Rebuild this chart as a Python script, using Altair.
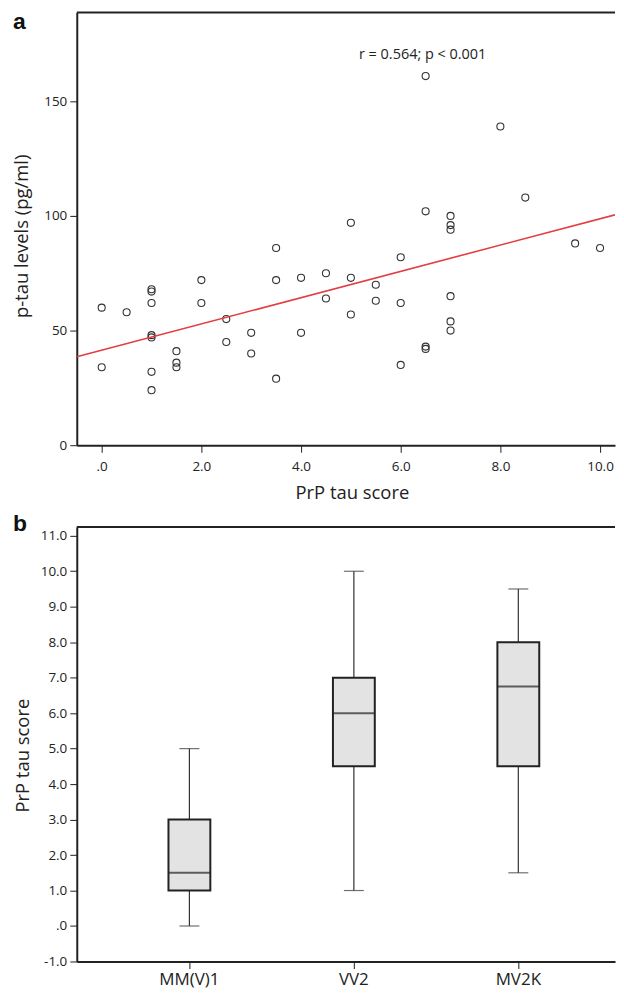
import altair as alt
import pandas as pd

# ---- panel a: scatter data (PrP tau score vs p-tau) ----
prp_score = [0, 0, 0.5, 1, 1, 1, 1, 1, 1, 1, 1.5, 1.5, 1.5, 2, 2, 2.5, 2.5, 3, 3,
             3.5, 3.5, 3.5, 4, 4, 4.5, 4.5, 5, 5, 5, 5.5, 5.5, 6, 6, 6,
             6.5, 6.5, 6.5, 6.5, 7, 7, 7, 7, 7, 7, 8, 8.5, 9.5, 10]
ptau = [60, 34, 58, 68, 67, 62, 48, 47, 32, 24, 41, 36, 34, 72, 62, 55, 45, 49, 40,
        86, 72, 29, 73, 49, 75, 64, 97, 73, 57, 70, 63, 82, 62, 35,
        161, 102, 43, 42, 100, 96, 94, 65, 54, 50, 139, 108, 88, 86]
annotation = ["r = 0.564; p < 0.001"]
annot_x = [6.44]
annot_y = [170.4]

# ---- panel b: box plot summary ----
groups = ["MM(V)1", "VV2", "MV2K"]
box_min = [0, 1, 1.5]
box_q1 = [1, 4.5, 4.5]
box_median = [1.5, 6, 6.75]
box_q3 = [3, 7, 8]
box_max = [5, 10, 9.5]

FONT = "Open Sans"
DARK = "#222222"

sc = pd.DataFrame({"score": prp_score, "ptau": ptau})
ann = pd.DataFrame({"x": annot_x, "y": annot_y, "t": annotation})
one = pd.DataFrame({"k": [0]})

W = 540
xdom = [-0.5, 10.3]
xs = alt.Scale(domain=xdom, nice=False, zero=False)
ys = alt.Scale(domain=[0, 188.7], nice=False)

H_A = 434

x_axis = alt.Axis(values=[0, 2, 4, 6, 8, 10],
                  labelExpr="datum.value == 0 ? '.0' : format(datum.value, '.1f')",
                  title="PrP tau score", grid=False, labelOverlap=False,
                  labelPadding=7, titlePadding=11, titleX=276)
y_axis = alt.Axis(values=[0, 50, 100, 150], format="d", labelOverlap=False,
                  title="p-tau levels (pg/ml)", grid=False, labelPadding=3,
                  titlePadding=12, titleY=224)

points = alt.Chart(sc).mark_point(shape="circle", filled=False, size=50,
                                  stroke="#333333", strokeWidth=1.1, opacity=1).encode(
    x=alt.X("score:Q", scale=xs, axis=x_axis),
    y=alt.Y("ptau:Q", scale=ys, axis=y_axis),
)

fit = alt.Chart(sc).transform_regression("score", "ptau", extent=xdom).mark_line(
    color="#e43d40", strokeWidth=1.6, clip=True).encode(
    x=alt.X("score:Q", scale=xs, axis=x_axis),
    y=alt.Y("ptau:Q", scale=ys, axis=y_axis),
)

annot = alt.Chart(ann).mark_text(font=FONT, fontSize=14.5, color=DARK).encode(
    x=alt.X("x:Q", scale=xs, axis=x_axis), y=alt.Y("y:Q", scale=ys, axis=y_axis), text="t:N")

top_a = alt.Chart(one).mark_rule(color=DARK, strokeWidth=2).encode(
    x=alt.value(0), x2=alt.value(W), y=alt.value(0))

letter_a = alt.Chart(pd.DataFrame({"t": ["a"]})).mark_text(
    font="Liberation Sans", fontWeight="bold", fontSize=23, color="#111111",
    align="left", baseline="top").encode(
    x=alt.value(-64), y=alt.value(-2), text="t:N")

panel_a = alt.layer(points, fit, annot, top_a, letter_a).properties(width=W, height=H_A)

# ---- panel b ----
bx = pd.DataFrame({"group": groups, "lo": box_min, "q1": box_q1, "med": box_median,
                   "q3": box_q3, "hi": box_max})
H_B = 436
xb_scale = alt.Scale(paddingInner=0, paddingOuter=0.13636, align=0.6778)
yb_scale = alt.Scale(domain=[-1, 11.25], nice=False)
xb_axis = alt.Axis(title=None, labelAngle=0, labelFontSize=17, grid=False,
                   labelOverlap=False, labelPadding=3)
yb_axis = alt.Axis(values=list(range(-1, 12)), title="PrP tau score", grid=False,
                   labelOverlap=False, labelPadding=3, titlePadding=8, titleY=229,
                   labelExpr="datum.value == 0 ? '.0' : (datum.value < 0 ? '-' + format(-datum.value, '.1f') : format(datum.value, '.1f'))")

base_b = alt.Chart(bx)
X_B = alt.X("group:N", sort=groups, scale=xb_scale, axis=xb_axis)

whisker = base_b.mark_rule(color="#333333", strokeWidth=1.2).encode(
    x=X_B, y=alt.Y("lo:Q", scale=yb_scale, axis=yb_axis), y2="hi:Q")
box = base_b.mark_bar(size=42, fill="#e3e3e3", stroke=DARK, strokeWidth=2).encode(
    x=X_B, y=alt.Y("q1:Q", scale=yb_scale, axis=yb_axis), y2="q3:Q")
median = base_b.mark_tick(size=42, thickness=2, color=DARK).encode(
    x=X_B, y=alt.Y("med:Q", scale=yb_scale, axis=yb_axis))
cap_lo = base_b.mark_tick(size=20, thickness=1.2, color="#333333").encode(
    x=X_B, y=alt.Y("lo:Q", scale=yb_scale, axis=yb_axis))
cap_hi = base_b.mark_tick(size=20, thickness=1.2, color="#333333").encode(
    x=X_B, y=alt.Y("hi:Q", scale=yb_scale, axis=yb_axis))

top_b = alt.Chart(one).mark_rule(color=DARK, strokeWidth=2).encode(
    x=alt.value(0), x2=alt.value(W), y=alt.value(0))

letter_b = alt.Chart(pd.DataFrame({"t": ["b"]})).mark_text(
    font="Liberation Sans", fontWeight="bold", fontSize=23, color="#111111",
    align="left", baseline="top").encode(
    x=alt.value(-64), y=alt.value(-14), text="t:N")

panel_b = alt.layer(whisker, box, median, cap_lo, cap_hi, top_b, letter_b).properties(
    width=W, height=H_B)

chart = alt.vconcat(panel_a, panel_b, spacing=11).properties(
    padding={"left": 4, "top": 1, "right": 0, "bottom": 0}
).configure_view(stroke=None).configure_axis(
    labelFont=FONT, labelFontSize=13.5, labelColor=DARK,
    tickColor="#333333", tickSize=7, tickWidth=1.1,
    domainColor=DARK, domainWidth=2,
    titleFont=FONT, titleFontSize=18.5, titleFontWeight="normal", titleColor=DARK,
)

chart.save("out.html", embed_options={"renderer": "svg", "actions": False})
